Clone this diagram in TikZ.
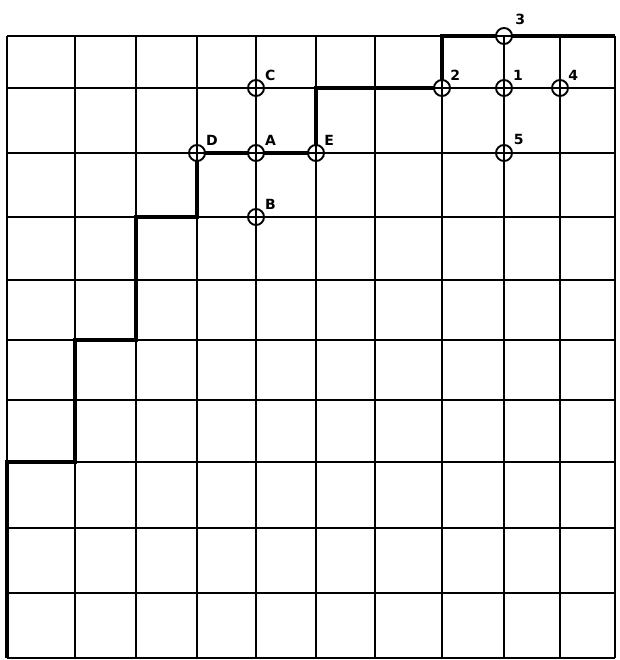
\documentclass[tikz,border=0pt]{standalone}
\usepackage{fontspec}
\setsansfont{DejaVu Sans}
\usetikzlibrary{positioning}

\begin{document}
\begin{tikzpicture}[
    x=1pt, y=-1pt,
    gridline/.style={line width=1.6pt},
    stair/.style={line width=4.5pt, line join=miter},
    junction/.style={circle, draw, fill=white, line width=1.9pt, minimum size=16pt, inner sep=0pt},
    tag/.style={font=\sffamily\bfseries\fontsize{14}{14}\selectfont, inner sep=0.5pt},
]
\useasboundingbox (0,0) rectangle (619,660);

% grid points
\foreach \x [count=\i] in {7,75,136,197,256,316,375,442,504,560,615}
  \foreach \y [count=\j] in {36,88,153,217,280,340,400,462,528,593,658}
    \coordinate (g\i-\j) at (\x,\y);

% thick boundary
\draw[stair] (g1-11) |- (g2-8) |- (g3-6) |- (g4-4) |- (g4-3) -- (g6-3) |- (g8-2) |- (g11-1);

% marked points
\node[junction, label={[tag, label distance=2pt]40:C}] (C) at (g5-2) {};
\node[junction, label={[tag, label distance=2pt]40:D}] (D) at (g4-3) {};
\node[junction, label={[tag, label distance=2pt]40:A}] (A) at (g5-3) {};
\node[junction, label={[tag, label distance=1pt]40:E}] (E) at (g6-3) {};
\node[junction, label={[tag, label distance=2pt]40:B}] (B) at (g5-4) {};
\node[junction, label={[tag, label distance=1pt]40:2}] (p2) at (g8-2) {};
\node[junction, label={[tag, label distance=2pt]40:1}] (p1) at (g9-2) {};
\node[junction, label={[tag, label distance=1pt]40:4}] (p4) at (g10-2) {};
\node[junction, label={[tag, label distance=6pt]45:3}] (p3) at (g9-1) {};
\node[junction, label={[tag, label distance=3pt]40:5}] (p5) at (g9-3) {};

% grid
\foreach \i in {1,...,11} \draw[gridline] (g\i-1) -- (g\i-11);
\foreach \j in {1,...,11} \draw[gridline] (g1-\j) -- (g11-\j);
\end{tikzpicture}
\end{document}
